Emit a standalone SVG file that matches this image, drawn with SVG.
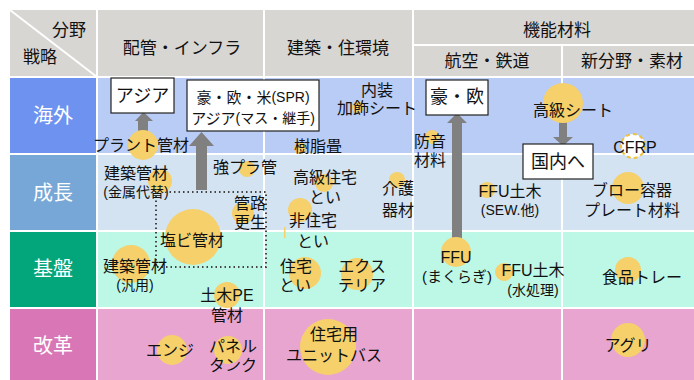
<svg xmlns="http://www.w3.org/2000/svg" width="694" height="380" viewBox="0 0 694 380">
<style>
text{font-family:"Liberation Sans","Noto Sans CJK JP",sans-serif;fill:#111;text-anchor:middle;dominant-baseline:central;font-size:16px}
.hd{font-size:17px}
.rl{font-size:20px;fill:#fff}
.sm{font-size:14px}
.bx{font-size:18px}
.dot{fill:#f5d06b}
.box{fill:#fff;stroke:#222;stroke-width:1.2}
.grid{stroke:#fff;stroke-width:2}
.arr{fill:#808080}
</style>
<rect width="694" height="380" fill="#fff"/>
<g id="table">
<rect x="10" y="10" width="684" height="67" fill="#d8d6d3"/>
<rect x="10" y="77" width="87" height="77" fill="#6d92ef"/>
<rect x="97" y="77" width="597" height="77" fill="#b9ccf6"/>
<rect x="10" y="154" width="87" height="77" fill="#76a7d6"/>
<rect x="97" y="154" width="597" height="77" fill="#d3e3f2"/>
<rect x="10" y="231" width="87" height="77" fill="#03a67a"/>
<rect x="97" y="231" width="597" height="77" fill="#bdf8e7"/>
<rect x="10" y="308" width="87" height="72" fill="#d977b6"/>
<rect x="97" y="308" width="597" height="72" fill="#e8a5d0"/>
<line class="grid" x1="10" y1="10" x2="97" y2="77"/>
<line class="grid" x1="97" y1="10" x2="97" y2="380"/>
<line class="grid" x1="264" y1="10" x2="264" y2="380"/>
<line class="grid" x1="413" y1="10" x2="413" y2="380"/>
<line class="grid" x1="562" y1="45" x2="562" y2="380"/>
<line class="grid" x1="413" y1="45" x2="694" y2="45"/>
<line class="grid" x1="10" y1="77" x2="694" y2="77"/>
<line class="grid" x1="10" y1="154" x2="694" y2="154"/>
<line class="grid" x1="10" y1="231" x2="694" y2="231"/>
<line class="grid" x1="10" y1="308" x2="694" y2="308"/>
<text class="hd" x="69" y="30">分野</text>
<text class="hd" x="40" y="57">戦略</text>
<text class="hd" x="182" y="48">配管・インフラ</text>
<text class="hd" x="338" y="48">建築・住環境</text>
<text class="hd" x="557" y="30">機能材料</text>
<text class="hd" x="487" y="61">航空・鉄道</text>
<text class="hd" x="632" y="61">新分野・素材</text>
<text class="rl" x="53" y="116">海外</text>
<text class="rl" x="53" y="193">成長</text>
<text class="rl" x="53" y="269">基盤</text>
<text class="rl" x="53" y="346">改革</text>
</g>
<g id="connectors">
<polygon class="arr" points="138,140 138,121 135,121 143.5,112 153,121 148,121 148,140"/>
<polygon class="arr" points="196,190 196,146 189,146 201.5,132 214,146 207,146 207,190"/>
<polygon class="arr" points="452,245 452,123 447,123 457,113 467,123 462,123 462,245"/>
<polygon class="arr" points="559,120 559,137 553,137 563,146 573,137 567,137 567,120"/>
</g>
<g id="pipe-group">
<rect x="156" y="192" width="110" height="75" fill="none" stroke="#444" stroke-width="2" stroke-dasharray="1.5 3"/>
</g>
<g id="plant"><circle class="dot" cx="143" cy="145" r="15"/><text x="141" y="145">プラント管材</text></g>
<g id="asia-box"><rect class="box" x="111" y="78" width="63" height="35"/><text class="bx" x="142.5" y="96">アジア</text></g>
<g id="spr-box"><rect class="box" x="187" y="80" width="132" height="51"/>
<text x="253" y="97" style="font-size:15px">豪・欧・米<tspan style="font-size:14px">(SPR)</tspan><tspan x="253" dy="21">アジア</tspan><tspan style="font-size:14px">(マス・継手)</tspan></text></g>
<g id="naisou"><circle class="dot" cx="358" cy="107" r="6"/><text x="377" y="90">内装<tspan x="377" dy="18">加飾シート</tspan></text></g>
<g id="tatami"><circle class="dot" cx="300" cy="148" r="6"/><text x="318" y="146">樹脂畳</text></g>
<g id="gou-ou-box"><rect class="box" x="426" y="80" width="62" height="35"/><text class="bx" x="457" y="97">豪・欧</text></g>
<g id="bouon"><circle class="dot" cx="432" cy="137" r="7"/><text x="430" y="141">防音<tspan x="430" dy="19">材料</tspan></text></g>
<g id="koukyu-sheet"><circle class="dot" cx="563" cy="103" r="20"/><text x="573" y="110">高級シート</text></g>
<g id="kokunai-box"><rect class="box" x="523" y="144" width="70" height="35"/><text class="bx" x="558" y="162">国内へ</text></g>
<g id="cfrp"><circle cx="633" cy="146" r="12" fill="#fff" stroke="#f0c040" stroke-width="2" stroke-dasharray="4 3"/><text x="635" y="147">CFRP</text></g>
<g id="kenchiku-kinzoku"><circle class="dot" cx="160" cy="181" r="12"/><text x="136" y="173">建築管材<tspan class="sm" x="136" dy="19">(金属代替)</tspan></text></g>
<g id="kyoupura"><circle class="dot" cx="247" cy="169" r="8"/><text x="245" y="167">強プラ管</text></g>
<g id="kanro"><circle class="dot" cx="243" cy="213" r="11"/><text x="250" y="203">管路<tspan x="250" dy="19">更生</tspan></text></g>
<g id="enbi"><circle class="dot" cx="193" cy="237" r="28"/><text x="192" y="240">塩ビ管材</text></g>
<g id="koukyu-jutaku"><circle class="dot" cx="324" cy="183" r="9"/><text x="325" y="177">高級住宅<tspan x="325" dy="20">とい</tspan></text></g>
<g id="hi-jutaku"><circle class="dot" cx="300" cy="210" r="12"/><rect class="dot" x="284" y="227" width="1.5" height="11"/><text x="313" y="220">非住宅<tspan x="313" dy="21">とい</tspan></text></g>
<g id="kaigo"><circle class="dot" cx="397" cy="180" r="8"/><text x="398" y="188">介護<tspan x="398" dy="22">器材</tspan></text></g>
<g id="ffu-doboku-sew"><circle class="dot" cx="487" cy="190" r="8"/><text x="510" y="191">FFU土木<tspan class="sm" x="510" dy="19">(SEW.他)</tspan></text></g>
<g id="blow"><circle class="dot" cx="628" cy="188" r="16"/><text x="632" y="190">ブロー容器<tspan x="632" dy="20">プレート材料</tspan></text></g>
<g id="kenchiku-hanyou"><circle class="dot" cx="131" cy="264" r="19"/><text x="135" y="266">建築管材<tspan class="sm" x="135" dy="19">(汎用)</tspan></text></g>
<g id="doboku-pe"><circle class="dot" cx="227" cy="295" r="13"/><text x="227" y="295">土木PE<tspan x="227" dy="20">管材</tspan></text></g>
<g id="jutaku-toi"><circle class="dot" cx="305" cy="273" r="16"/><text x="296" y="266">住宅<tspan x="295" dy="19">とい</tspan></text></g>
<g id="exterior"><circle class="dot" cx="357" cy="274" r="16"/><text x="362" y="266">エクス<tspan x="362" dy="19">テリア</tspan></text></g>
<g id="ffu-makuragi"><circle class="dot" cx="456" cy="252" r="15"/><text x="456" y="257">FFU<tspan style="font-size:15px" x="457" dy="19">(まくらぎ)</tspan></text></g>
<g id="ffu-mizu"><circle class="dot" cx="504" cy="272" r="9"/><text x="533" y="270">FFU土木<tspan class="sm" x="533" dy="20">(水処理)</tspan></text></g>
<g id="food-tray"><circle class="dot" cx="628" cy="270" r="13"/><text x="642" y="277">食品トレー</text></g>
<g id="engi"><circle class="dot" cx="172" cy="350" r="15"/><text x="170" y="350">エンジ</text></g>
<g id="panel"><circle class="dot" cx="228" cy="350" r="14"/><text x="233" y="346">パネル<tspan x="233" dy="19">タンク</tspan></text></g>
<g id="unit-bath"><circle class="dot" cx="328" cy="347" r="28"/><text x="334" y="334">住宅用<tspan x="334" dy="21">ユニットバス</tspan></text></g>
<g id="agri"><circle class="dot" cx="628" cy="340" r="17"/><text x="628" y="345">アグリ</text></g>
</svg>
